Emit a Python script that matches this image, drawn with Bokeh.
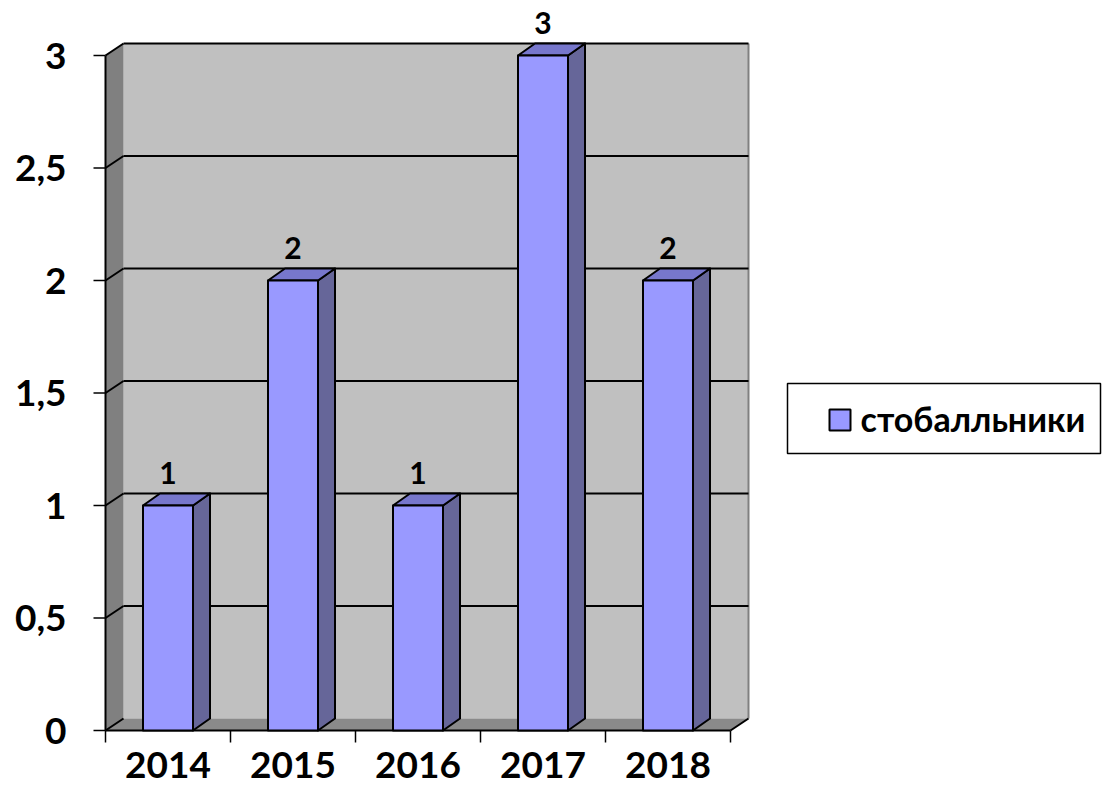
from bokeh.plotting import figure
from bokeh.models import Range1d, ColumnDataSource
from bokeh.core.properties import value
from bokeh.embed import file_html
from bokeh.resources import INLINE

# ---- data ----
years = ["2014", "2015", "2016", "2017", "2018"]
counts = [1, 2, 1, 3, 2]
y_ticks = [0, 0.5, 1, 1.5, 2, 2.5, 3]
y_tick_labels = ["0", "0,5", "1", "1,5", "2", "2,5", "3"]
series_name = "стобалльники"

# ---- layout (pixel mapping of the data space) ----
W, H = 1102, 784
X0, UX = 105.0, 125.0      # px of x=0, px per category
Y0, UY = 730.0, 225.0      # px of y=0, px per unit

def X(px): return (px - X0) / UX
def Y(py): return (Y0 - py) / UY
def DX(d): return d / UX
def DY(d): return d / UY

n = len(years)
ymax = max(y_ticks)
DXW, DYW = DX(18), DY(12)      # wall depth
DXB, DYB = DX(17), DY(12)      # bar depth
HW = DX(25)                    # bar half width

FONT = value("Lato")

p = figure(width=W, height=H, output_backend="svg", toolbar_location=None,
           x_range=Range1d(X(0), X(W)), y_range=Range1d(Y(H), Y(0)),
           min_border=0, x_axis_location=None, y_axis_location=None)
p.grid.visible = False
p.outline_line_color = None
p.background_fill_color = "white"

# back wall
p.quad(left=[DXW], right=[n + DXW], bottom=[DYW], top=[ymax + DYW],
       fill_color="#C0C0C0", line_color=None)
p.segment(x0=[n + DXW], y0=[DYW], x1=[n + DXW], y1=[ymax + DYW],
          line_color="#808080", line_width=2)
# left wall
p.patch(x=[0, DXW, DXW, 0], y=[0, DYW, ymax + DYW, ymax],
        fill_color="#808080", line_color=None)
# floor
p.patch(x=[0, n, n + DXW, DXW], y=[0, 0, DYW, DYW],
        fill_color="#8A8A8A", line_color=None)

# gridlines
gx0, gy0, gx1, gy1 = [], [], [], []
for v in y_ticks:
    if v > 0:
        gx0.append(DXW); gy0.append(v + DYW); gx1.append(n + DXW); gy1.append(v + DYW)
    gx0.append(0); gy0.append(v); gx1.append(DXW); gy1.append(v + DYW)
p.segment(x0=gx0, y0=gy0, x1=gx1, y1=gy1, line_color="black", line_width=2)

# value axis
p.segment(x0=[0], y0=[0], x1=[0], y1=[ymax], line_color="black", line_width=2)
p.segment(x0=[DX(-12)] * len(y_ticks), y0=y_ticks, x1=[0] * len(y_ticks), y1=y_ticks,
          line_color="black", line_width=1.5)
# category axis
p.segment(x0=[0], y0=[0], x1=[n], y1=[0], line_color="black", line_width=2)
p.segment(x0=[n], y0=[0], x1=[n + DXW], y1=[DYW], line_color="black", line_width=2)
bx = list(range(n + 1))
p.segment(x0=bx, y0=[0] * len(bx), x1=bx, y1=[DY(-12)] * len(bx),
          line_color="black", line_width=1.5)

# bars
centers = [i + 0.5 for i in range(n)]
src = ColumnDataSource(dict(
    left=[c - HW for c in centers], right=[c + HW for c in centers],
    bottom=[0] * n, top=counts))
side_xs = [[c + HW, c + HW + DXB, c + HW + DXB, c + HW] for c in centers]
side_ys = [[0, DYB, v + DYB, v] for v in counts]
top_xs = [[c - HW, c - HW + DXB, c + HW + DXB, c + HW] for c in centers]
top_ys = [[v, v + DYB, v + DYB, v] for v in counts]
p.patches(xs=side_xs, ys=side_ys, fill_color="#666699", line_color="black",
          line_width=2, line_join="round")
p.patches(xs=top_xs, ys=top_ys, fill_color="#7777CC", line_color="black",
          line_width=2, line_join="round")
p.quad(left="left", right="right", bottom="bottom", top="top", source=src,
       fill_color="#9999FF", line_color="black", line_width=2, line_join="round")

# data labels
p.text(x=centers, y=[v + DY(33) for v in counts], text=[str(v) for v in counts],
       text_font=FONT, text_font_style="bold", text_font_size="30px",
       text_align="center", text_baseline="middle", text_color="black")

# tick labels
p.text(x=[X(66)] * len(y_ticks), y=y_ticks, text=y_tick_labels,
       text_font=FONT, text_font_style="bold", text_font_size="37px",
       text_align="right", text_baseline="middle", text_color="black")
p.text(x=centers, y=[Y(764)] * n, text=years,
       text_font=FONT, text_font_style="bold", text_font_size="37px",
       text_align="center", text_baseline="middle", text_color="black")

# legend
p.quad(left=[X(787)], right=[X(1100)], bottom=[Y(453)], top=[Y(383)],
       fill_color="white", line_color="black", line_width=1.5)
p.quad(left=[X(829)], right=[X(850)], bottom=[Y(430)], top=[Y(409)],
       fill_color="#9999FF", line_color="black", line_width=2)
p.text(x=[X(860)], y=[Y(418)], text=[series_name],
       text_font=FONT, text_font_style="bold", text_font_size="34px",
       text_align="left", text_baseline="middle", text_color="black")

open("out.html", "w").write(file_html(p, INLINE))
